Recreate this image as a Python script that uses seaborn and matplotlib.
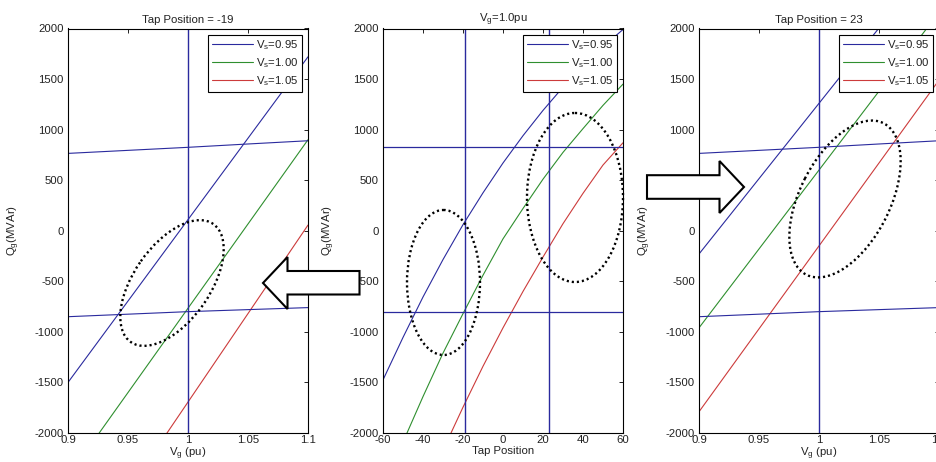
import matplotlib
matplotlib.use("Agg")
import matplotlib.pyplot as plt
import numpy as np
import pandas as pd
import seaborn as sns
from matplotlib.patches import Ellipse, Polygon

# ---------------- data ----------------
vg = [0.9, 0.95, 1.0, 1.05, 1.1]
vs_labels = ["0.95", "1.00", "1.05"]

# Panel 1: Tap Position = -19
p1_vs095 = [-1500, -695, 110, 915, 1720]
p1_vs100 = [-2433, -1600, -766, 67, 900]
p1_vs105 = [-3444, -2569, -1694, -819, 56]
p1_upper = [765, 795, 825, 858, 890]
p1_lower = [-850, -825, -800, -780, -760]

# Panel 3: Tap Position = 23
p3_vs095 = [-230, 515, 1260, 2005, 2750]
p3_vs100 = [-960, -180, 600, 1380, 2160]
p3_vs105 = [-1790, -970, -150, 670, 1490]
p3_upper = [765, 795, 825, 858, 890]
p3_lower = [-850, -825, -800, -780, -760]

# Panel 2: Vg = 1.0 pu
taps = [-60, -50, -40, -30, -20, -10, 0, 10, 20, 30, 40, 50, 60]
p2_vs095 = [-1475, -1055, -655, -285, 60, 375, 670, 940, 1190, 1420, 1630, 1820, 1990]
p2_vs100 = [-2540, -2090, -1640, -1210, -820, -440, -80, 220, 510, 775, 1010, 1240, 1450]
p2_vs105 = [-3580, -3090, -2620, -2170, -1745, -1340, -960, -600, -260, 70, 370, 650, 870]
p2_hlines = [825, -800]
tap_marks = [-19, 23]
vg_mark = 1.0

titles = ["Tap Position = -19", r"$\mathregular{V_g}$=1.0pu", "Tap Position = 23"]
xlabels = [r"$\mathregular{V_g}$ (pu)", "Tap Position", r"$\mathregular{V_g}$ (pu)"]
ylabel = r"$\mathregular{Q_g}$(MVAr)"
vg_ticks = [0.9, 0.95, 1.0, 1.05, 1.1]
vg_ticklabels = ["0.9", "0.95", "1", "1.05", "1.1"]
tap_ticks = [-60, -40, -20, 0, 20, 40, 60]
tap_ticklabels = ["-60", "-40", "-20", "0", "20", "40", "60"]
q_ticks = [-2000, -1500, -1000, -500, 0, 500, 1000, 1500, 2000]
q_ticklabels = ["-2000", "-1500", "-1000", "-500", "0", "500", "1000", "1500", "2000"]

# ---------------- style ----------------
sns.set_style("white")
plt.rcParams["font.family"] = ["Liberation Sans", "DejaVu Sans"]
plt.rcParams["mathtext.fontset"] = "custom"
plt.rcParams["mathtext.rm"] = "Liberation Sans"

BLUE = "#2a2a9e"
GREEN = "#2f8f2f"
RED = "#cc3b3b"
palette = {r"$\mathregular{V_s}$=" + s: c for s, c in zip(vs_labels, [BLUE, GREEN, RED])}
FS = 8.2
TXT = "#222222"

W, H = 937, 462
fig = plt.figure(figsize=(W / 100, H / 100), dpi=100)

def px_axes(left, right, top, bottom):
    return fig.add_axes([left / W, 1 - bottom / H, (right - left) / W, (bottom - top) / H])

ax1 = px_axes(68, 308, 28.5, 433)
ax2 = px_axes(383, 623, 28.5, 433)
ax3 = px_axes(699, 939, 28.5, 433)


def long_df(x, ys):
    frames = []
    for s, y in zip(vs_labels, ys):
        frames.append(pd.DataFrame({"x": x, "Q": y, "series": r"$\mathregular{V_s}$=" + s}))
    return pd.concat(frames, ignore_index=True)


def style_axes(ax, title, xlabel, xticks, xticklabels, xlim):
    ax.set_xlim(*xlim)
    ax.set_ylim(-2000, 2000)
    ax.set_xticks(xticks)
    ax.set_xticklabels(xticklabels)
    ax.set_yticks(q_ticks)
    ax.set_yticklabels(q_ticklabels)
    ax.tick_params(direction="in", length=3, width=0.6, top=True, right=True,
                   labelsize=FS, colors="black", labelcolor=TXT)
    ax.tick_params(axis="x", pad=1.2)
    ax.tick_params(axis="y", pad=3.0)
    for sp in ax.spines.values():
        sp.set_color("black")
        sp.set_linewidth(0.8)
        sp.set_visible(True)
    ax.set_title(title, fontsize=FS, color=TXT, pad=4.2)
    ax.set_xlabel(xlabel, fontsize=FS, color=TXT)
    ax.set_ylabel(ylabel, fontsize=FS, color=TXT)
    ax.xaxis.set_label_coords(0.5, -0.032)
    ax.yaxis.set_label_coords(-0.19, 0.5)
    leg = ax.legend(loc="upper right", fontsize=FS, frameon=True, fancybox=False,
                    edgecolor="black", framealpha=1, borderaxespad=0.55,
                    handlelength=3.6, handletextpad=0.3, labelspacing=0.38,
                    borderpad=0.3)
    leg.get_frame().set_linewidth(0.8)
    for t in leg.get_texts():
        t.set_color(TXT)


# Panel 1
sns.lineplot(data=long_df(vg, [p1_vs095, p1_vs100, p1_vs105]), x="x", y="Q", hue="series",
             palette=palette, ax=ax1, linewidth=0.8, sort=False)
sns.lineplot(x=vg, y=p1_upper, ax=ax1, color=BLUE, linewidth=0.8, legend=False)
sns.lineplot(x=vg, y=p1_lower, ax=ax1, color=BLUE, linewidth=0.8, legend=False)
ax1.axvline(vg_mark, color=BLUE, linewidth=1.0)
style_axes(ax1, titles[0], xlabels[0], vg_ticks, vg_ticklabels, (0.9, 1.1))

# Panel 2
sns.lineplot(data=long_df(taps, [p2_vs095, p2_vs100, p2_vs105]), x="x", y="Q", hue="series",
             palette=palette, ax=ax2, linewidth=0.8, sort=False)
for h in p2_hlines:
    ax2.axhline(h, color=BLUE, linewidth=0.9)
for t in tap_marks:
    ax2.axvline(t, color=BLUE, linewidth=1.0)
style_axes(ax2, titles[1], xlabels[1], tap_ticks, tap_ticklabels, (-60, 60))

# Panel 3
sns.lineplot(data=long_df(vg, [p3_vs095, p3_vs100, p3_vs105]), x="x", y="Q", hue="series",
             palette=palette, ax=ax3, linewidth=0.8, sort=False)
sns.lineplot(x=vg, y=p3_upper, ax=ax3, color=BLUE, linewidth=0.8, legend=False)
sns.lineplot(x=vg, y=p3_lower, ax=ax3, color=BLUE, linewidth=0.8, legend=False)
ax3.axvline(vg_mark, color=BLUE, linewidth=1.0)
style_axes(ax3, titles[2], xlabels[2], vg_ticks, vg_ticklabels, (0.9, 1.1))

# ---------------- annotation overlay (pixel coordinates) ----------------
ov = fig.add_axes([0, 0, 1, 1], zorder=10)
ov.set_xlim(0, W)
ov.set_ylim(H, 0)
ov.axis("off")
ov.patch.set_alpha(0)

dot = (0, (0.9, 1.25))
for (cx, cy, w, h, ang) in [(172, 283, 144, 76, -55),
                            (443.5, 282.5, 73, 145, 0),
                            (575, 197.5, 96, 169, 0),
                            (845, 199, 170, 90, -63)]:
    ov.add_patch(Ellipse((cx, cy), w, h, angle=ang, fill=False, edgecolor="black",
                         linewidth=1.7, linestyle=dot))

left_arrow = [(263, 283), (287.5, 257), (287.5, 271), (359.5, 271),
              (359.5, 294.5), (287.5, 294.5), (287.5, 309)]
right_arrow = [(744, 187), (719.5, 161), (719.5, 175.2), (647, 175.2),
               (647, 198.8), (719.5, 198.8), (719.5, 213)]
for poly in (left_arrow, right_arrow):
    ov.add_patch(Polygon(poly, closed=True, facecolor="white", edgecolor="black",
                         linewidth=1.5, joinstyle="miter"))

fig.savefig("out.png", dpi=100)
